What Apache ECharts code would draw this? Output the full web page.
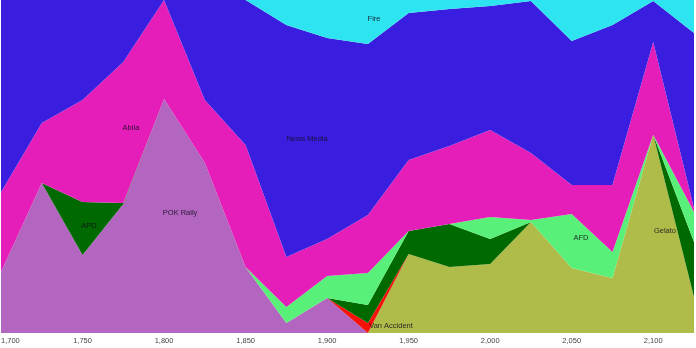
<!DOCTYPE html>
<html>
<head>
<meta charset="utf-8">
<script src="https://cdn.jsdelivr.net/npm/echarts@6/dist/echarts.min.js"></script>
<style>
html,body{margin:0;padding:0;background:#fff;}
#chart{width:696px;height:348px;}
</style>
</head>
<body>
<div id="chart"></div>
<script>
// x values (years)
var years = [1700,1725,1750,1775,1800,1825,1850,1875,1900,1925,1950,1975,2000,2025,2050,2075,2100,2125];

// series values (shares), bottom to top
var seriesNames = ['POK Rally','Gelato','Van Accident','APD','AFD','Abila','News Media','Fire'];
var pokRally    = [18.3,45.0,23.4,38.7,70.3,51.1,19.8,3.0,10.5,0,0,0,0,0,0,0,0,0];
var gelato      = [0,0,0,0,0,0,0,0,0,0,23.7,19.8,20.7,33.3,19.5,16.5,59.5,10.8];
var vanAccident = [0,0,0,0,0,0,0,0,0,3.0,0,0,0,0,0,0,0,0];
var apd         = [0,0,15.9,0.3,0,0,0,0,0,5.4,6.9,12.9,7.5,0,0,0,0,16.5];
var afd         = [0,0,0,0,0,0,0,4.8,6.6,9.6,0,0,6.6,0.6,16.2,7.8,0,9.0];
var abila       = [24.0,18.0,30.6,42.3,29.7,18.9,36.6,15.0,11.1,17.4,21.3,23.4,26.1,20.1,8.7,20.1,27.9,1.2];
var newsMedia   = [57.7,36.9,30.0,18.6,0,30.0,43.5,69.7,60.4,51.4,44.1,41.1,37.2,45.6,43.2,48.0,12.3,52.6];
var fire        = [0,0,0,0,0,0,0,7.5,11.4,13.2,3.9,2.7,1.8,0.3,12.3,7.5,0.3,9.9];

var seriesValues = [pokRally, gelato, vanAccident, apd, afd, abila, newsMedia, fire];
var seriesColors = ['#b266c0','#b0bc4a','#f5120a','#006a00','#58f078','#e61eb9','#3a1ee0','#2de4f0'];

// label anchors in data space: [name, year, percent]
var labelAnchors = [
  ['Abila', 1779.7, 61.6],
  ['APD', 1754.0, 32.1],
  ['POK Rally', 1809.8, 36.0],
  ['News Media', 1887.7, 58.3],
  ['Fire', 1928.8, 94.3],
  ['Van Accident', 1939.2, 2.1],
  ['AFD', 2055.7, 28.5],
  ['Gelato', 2107.2, 30.6]
];

// 100% stacking
var totals = years.map(function(_, i){
  var s = 0; seriesValues.forEach(function(arr){ s += arr[i]; }); return s;
});

var series = seriesNames.map(function(name, k){
  return {
    name: name,
    type: 'line',
    stack: 'total',
    showSymbol: false,
    symbol: 'none',
    silent: true,
    lineStyle: { width: 0, opacity: 0 },
    areaStyle: { color: seriesColors[k], opacity: 1 },
    itemStyle: { color: seriesColors[k] },
    data: years.map(function(y, i){ return seriesValues[k][i] / totals[i] * 100; })
  };
});

var chart = echarts.init(document.getElementById('chart'), null, {renderer: 'canvas'});
chart.setOption({
  animation: false,
  backgroundColor: '#ffffff',
  grid: { left: 1, right: 2, top: 0, bottom: 15, containLabel: false, outerBoundsMode: 'none' },
  xAxis: {
    type: 'category',
    boundaryGap: false,
    data: years,
    axisLine: { show: false },
    axisTick: { show: false },
    splitLine: { show: false },
    axisLabel: {
      show: true,
      interval: 1,
      alignMinLabel: 'left',
      margin: 4,
      fontSize: 7.5,
      fontFamily: 'Liberation Sans, Arial, sans-serif',
      color: '#444',
      formatter: function(v){ return Number(v).toLocaleString('en-US'); }
    }
  },
  yAxis: {
    type: 'value', min: 0, max: 100, show: false,
    splitLine: { show: false }
  },
  series: series
});

// place labels: interpolate the category axis between first and last year
var p0 = chart.convertToPixel({xAxisIndex: 0, yAxisIndex: 0}, [0, 0]);
var p1 = chart.convertToPixel({xAxisIndex: 0, yAxisIndex: 0}, [years.length - 1, 100]);
var y0 = years[0], y1 = years[years.length - 1];
var graphics = labelAnchors.map(function(a){
  var px = p0[0] + (a[1] - y0) / (y1 - y0) * (p1[0] - p0[0]);
  var py = p0[1] + a[2] / 100 * (p1[1] - p0[1]);
  return {
    type: 'text',
    x: px, y: py,
    silent: true,
    z: 100,
    style: {
      text: a[0],
      fill: 'rgba(20,10,30,0.85)',
      font: '7.5px "Liberation Sans", Arial, sans-serif',
      align: 'center',
      verticalAlign: 'middle'
    }
  };
});
chart.setOption({ graphic: graphics });
</script>
</body>
</html>
